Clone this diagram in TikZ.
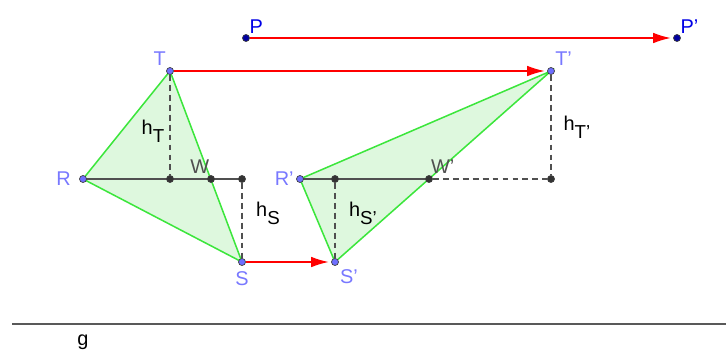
\documentclass[tikz,border=0pt]{standalone}
\usepackage{fontspec}
\setmainfont{Liberation Sans}
\usepackage{tikz}
\usetikzlibrary{arrows.meta, positioning, backgrounds}
\definecolor{ptColor}{RGB}{110, 110, 255}
\definecolor{labelColor}{RGB}{120, 120, 255}
\definecolor{pColor}{RGB}{0, 0, 230}
\definecolor{edgeColor}{RGB}{60, 230, 60}
\definecolor{fillColor}{RGB}{222, 248, 222}
\definecolor{lineColor}{RGB}{80, 80, 80}
\newcommand{\hsub}[1]{h\raisebox{-7pt}{\fontsize{16}{18}\selectfont #1}}

\begin{document}
\begin{tikzpicture}[x=0.03cm, y=-0.03cm, font=\fontsize{17}{20}\selectfont,
  pt/.style={circle, inner sep=0pt, minimum size=6pt, draw=black!75, line width=0.6pt, fill=ptColor},
  blackpt/.style={pt, fill=black!80},
  ptlabel/.style={text=labelColor, inner sep=1pt},
  greenedge/.style={draw=edgeColor, line width=1.3pt},
  baseseg/.style={draw=lineColor, line width=1.4pt},
  helper/.style={draw=lineColor, line width=1.2pt, dash pattern=on 5pt off 3.5pt},
  vecarrow/.style={draw=red, line width=1.3pt, -{Latex[length=15pt, width=9pt]}, shorten >=2pt}]
  \useasboundingbox (0,0) rectangle (726,352);

  % points of the first triangle
  \node[pt, label={[ptlabel, label distance=1pt]125:T}] (T) at (170,71) {};
  \node[pt, label={[ptlabel, label distance=6pt]left:R}] (R) at (83,179) {};
  \node[pt, label={[ptlabel, label distance=4pt]below:S}] (S) at (242,262) {};
  \node[blackpt, label={[text=lineColor, inner sep=1pt, label distance=0pt]95:W}] (W) at (211,179) {};
  \node[blackpt] (FT) at (170,179) {};
  \node[blackpt] (FS) at (242,179) {};

  % points of the shifted triangle
  \node[pt, label={[ptlabel, label distance=1pt]55:T'}] (Tp) at (551,71) {};
  \node[pt, label={[ptlabel, label distance=1pt]left:R'}] (Rp) at (300,179) {};
  \node[pt, label={[ptlabel, label distance=3pt]-60:S'}] (Sp) at (335,262) {};
  \node[blackpt, label={[text=lineColor, inner sep=1pt, label distance=0pt]80:W'}] (Wp) at (429,179) {};
  \node[blackpt] (FSp) at (335,179) {};
  \node[blackpt] (FTp) at (551,179) {};

  % shift vector
  \node[blackpt, fill=pColor!70!black, label={[text=pColor, inner sep=1pt, label distance=0pt]55:P}] (P) at (246,38) {};
  \node[blackpt, fill=pColor!70!black, label={[text=pColor, inner sep=1pt, label distance=0pt]55:P'}] (Pp) at (677,38) {};

  \begin{scope}[on background layer]
    \fill[fillColor] (R.center) -- (T.center) -- (S.center) -- cycle;
    \fill[fillColor] (Rp.center) -- (Tp.center) -- (Sp.center) -- cycle;
    \draw[greenedge] (R.center) -- (T.center) -- (S.center) -- cycle;
    \draw[greenedge] (Rp.center) -- (Tp.center) -- (Sp.center) -- cycle;
    \draw[baseseg] (R.center) -- (FS.center);
    \draw[baseseg] (Rp.center) -- (Wp.center);
    \draw[helper] (T) -- (FT);
    \draw[helper] (FS) -- (S);
    \draw[helper] (FSp) -- (Sp);
    \draw[helper] (Wp) -- (FTp);
    \draw[helper] (Tp) -- (FTp);
  \end{scope}

  \draw[vecarrow] (P) -- (Pp);
  \draw[vecarrow] (T) -- (Tp);
  \draw[vecarrow] (S) -- (Sp);

  % heights
  \node (hT) at (153,131) {\hsub{T}};
  \node (hS) at (268,213) {\hsub{S}};
  \node (hSp) at (363,213) {\hsub{S'}};
  \node (hTp) at (577,127) {\hsub{T'}};

  % line g
  \coordinate (g1) at (12,324);
  \coordinate (g2) at (726,324);
  \draw[draw=black!65, line width=1.3pt] (g1) -- (g2);
  \node (g) at (83,342) {g};
\end{tikzpicture}
\end{document}
